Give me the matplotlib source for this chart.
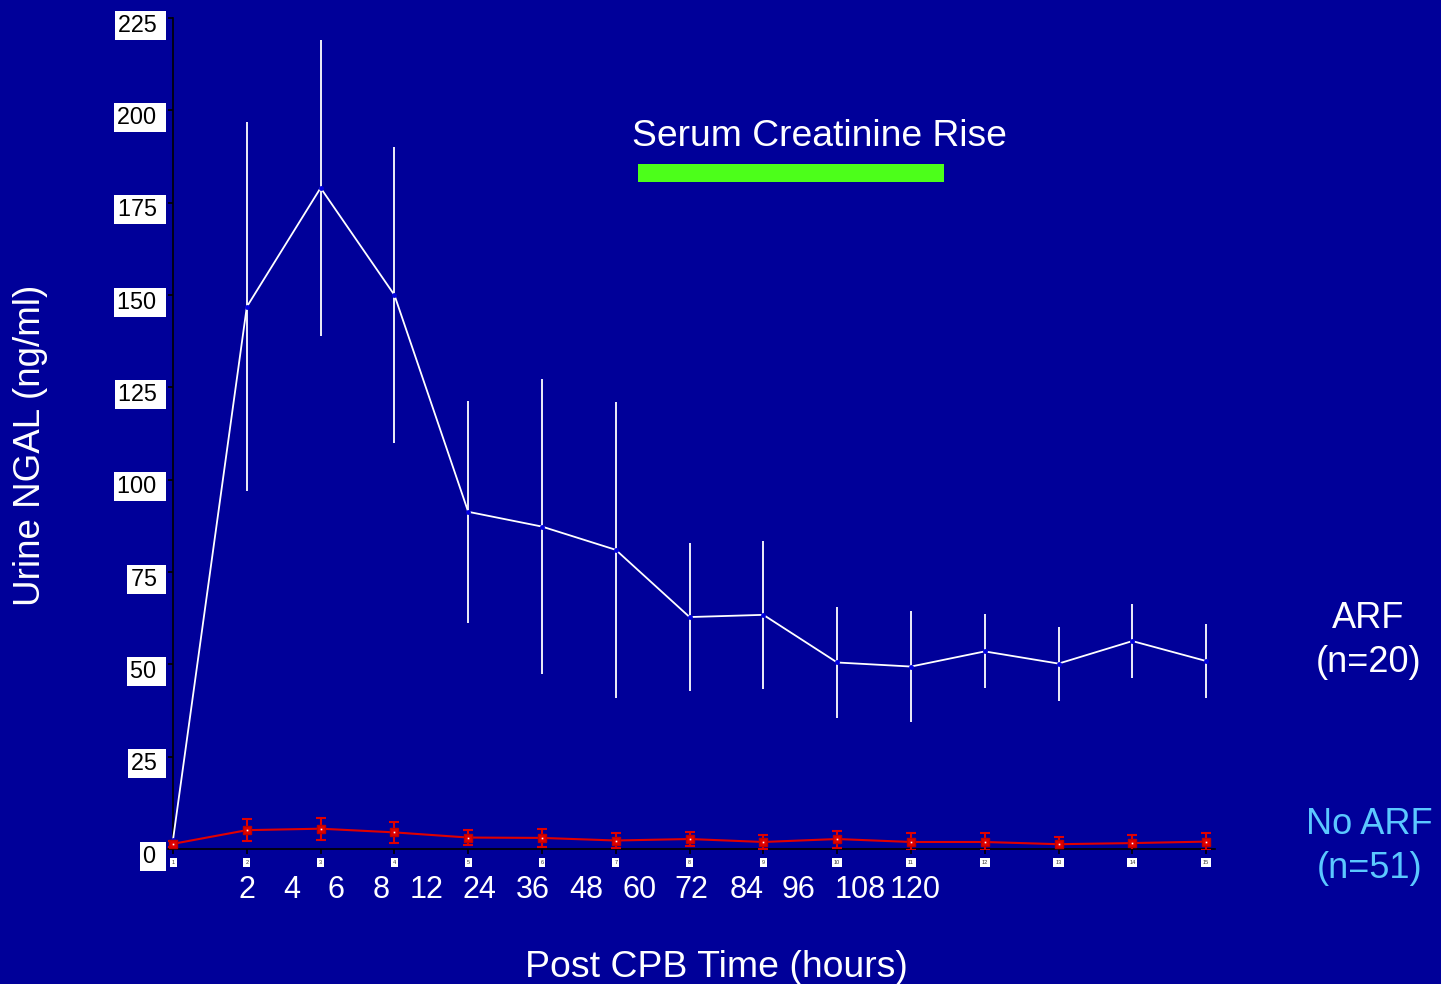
import matplotlib
matplotlib.use('Agg')
import matplotlib.pyplot as plt
from matplotlib.patches import Rectangle
from matplotlib.transforms import ScaledTranslation

# ---- data ----
time_points = list(range(1, 16))
arf_mean = [2.5, 146.8, 179.0, 150.0, 91.3, 87.3, 81.0, 62.8, 63.4, 50.5, 49.4, 53.5, 50.2, 56.3, 50.9]
arf_err = [0, 50, 40, 40, 30, 40, 40, 20, 20, 15, 15, 10, 10, 10, 10]
noarf_mean = [1.4, 5.1, 5.5, 4.5, 3.1, 3.0, 2.3, 2.7, 1.9, 2.7, 1.9, 1.9, 1.3, 1.6, 2.0]
noarf_err = [0.8, 3.0, 3.0, 2.9, 2.0, 2.5, 2.0, 2.0, 2.0, 2.3, 2.3, 2.3, 1.9, 2.3, 2.3]
y_ticks = [0, 25, 50, 75, 100, 125, 150, 175, 200, 225]
hour_labels = ['2', '4', '6', '8', '12', '24', '36', '48', '60', '72', '84', '96', '108', '120']
hour_label_x = [2.00, 2.61, 3.21, 3.82, 4.43, 5.15, 5.88, 6.60, 7.32, 8.03, 8.77, 9.48, 10.31, 11.06]
creatinine_span = (7.30, 11.45)
creatinine_band = (180.7, 185.5)

BG = '#000099'
W, H = 1441, 984

fig = plt.figure(figsize=(W / 100, H / 100), dpi=100, facecolor=BG)
ax = fig.add_axes([168 / W, 1 - 849 / H, (1215 - 168) / W, (849 - 18) / H])
ax.set_facecolor(BG)
ax.set_xlim(0.932, 15.12)
ax.set_ylim(0, 225)

font = 'Liberation Sans'

# ARF series (white)
ax.errorbar(time_points, arf_mean, yerr=arf_err, color='white', lw=1.3,
            elinewidth=1.3, capsize=0, zorder=3)
ax.plot(time_points, arf_mean, 'o', ms=3.5, mfc='#0000dd', mec='none', zorder=4)

# No ARF series (red)
ax.errorbar(time_points, noarf_mean, yerr=noarf_err, color='#e00000', lw=1.5,
            elinewidth=1.5, capsize=3.5, capthick=1.5, zorder=5)
ax.plot(time_points, noarf_mean, 's', ms=5.5, mfc='#e00000', mec='#c00000', zorder=6)
ax.plot(time_points, noarf_mean, 's', ms=1.2, mfc='white', mec='none', zorder=7)

# Serum creatinine rise bar
ax.add_patch(Rectangle((creatinine_span[0], creatinine_band[0]),
                       creatinine_span[1] - creatinine_span[0],
                       creatinine_band[1] - creatinine_band[0],
                       facecolor='#4cff1a', edgecolor='none', zorder=2))

# spines
for s in ['top', 'right']:
    ax.spines[s].set_visible(False)
ax.spines['left'].set_position(('data', 1))
ax.spines['left'].set_color('black')
ax.spines['bottom'].set_color('black')
ax.spines['left'].set_linewidth(1.2)
ax.spines['bottom'].set_linewidth(1.2)

# y ticks with boxed labels drawn manually
ax.set_yticks(y_ticks)
ax.set_yticklabels([])
ax.tick_params(axis='y', direction='out', length=3.6, width=1.2, color='black')
ylab_tr = ax.transData + ScaledTranslation(-10 / 100, -13.7 / 100, fig.dpi_scale_trans)
for v in y_ticks:
    ax.text(1, v, f'{v} ', transform=ylab_tr, ha='right', va='baseline',
            fontsize=16.8, family=font, color='black', clip_on=False,
            bbox=dict(facecolor='white', edgecolor='none', boxstyle='square,pad=0.13'))

ax.set_xticks(time_points)
ax.set_xticklabels([str(v) for v in time_points], fontsize=4, family=font, color='#333333')
ax.tick_params(axis='x', direction='out', length=3.6, width=1.2, color='black', pad=4)
for lab in ax.get_xticklabels():
    lab.set_bbox(dict(facecolor='white', edgecolor='none', boxstyle='square,pad=0.35'))

# hour labels row
hour_tr = ax.get_xaxis_transform() + ScaledTranslation(0, -(898 - 849) / 100, fig.dpi_scale_trans)
for lbl, xp in zip(hour_labels, hour_label_x):
    ax.text(xp, 0, lbl, transform=hour_tr, ha='center', va='baseline',
            fontsize=22, family=font, color='white', clip_on=False)

def ftext(x, y, s, **kw):
    fig.text(x / W, 1 - y / H, s, family=font, **kw)

ftext(819.5, 146, 'Serum Creatinine Rise', fontsize=26.8, color='white', ha='center', va='baseline')
ftext(716.5, 977, 'Post CPB Time (hours)', fontsize=26.9, color='white', ha='center', va='baseline')
fig.text(31 / W, 1 - 445 / H, 'Urine NGAL (ng/ml)', family=font, fontsize=26.5, color='white',
         rotation=90, ha='center', va='center')
ftext(1368, 628, 'ARF', fontsize=26, color='white', ha='center', va='baseline')
ftext(1369, 672, '(n=20)', fontsize=26, color='white', ha='center', va='baseline')
ftext(1369.5, 834, 'No ARF', fontsize=26, color='#5bc8ff', ha='center', va='baseline')
ftext(1369.5, 878, '(n=51)', fontsize=26, color='#5bc8ff', ha='center', va='baseline')

fig.savefig('out.png', dpi=100, facecolor=BG)
